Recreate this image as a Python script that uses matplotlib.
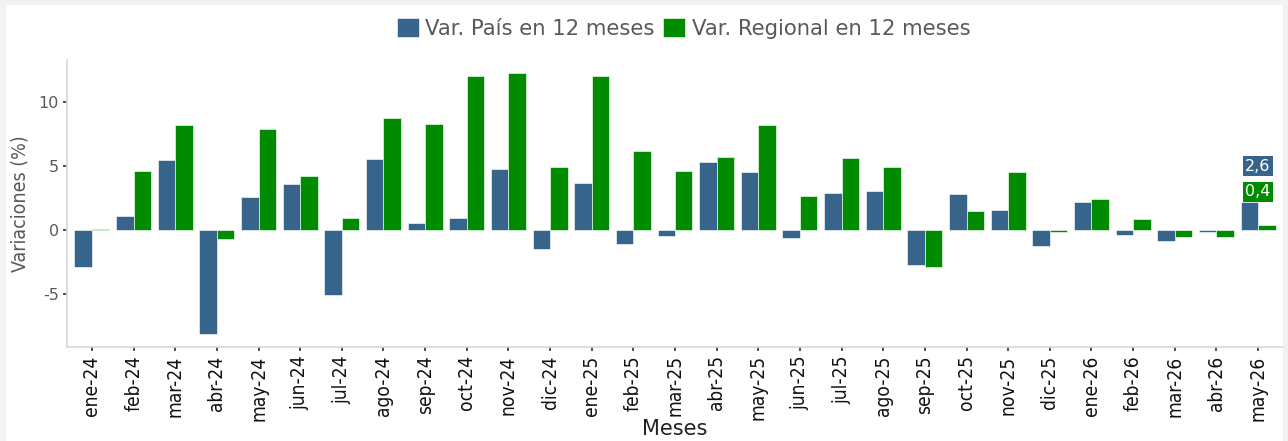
import matplotlib
matplotlib.use("Agg")
import matplotlib.pyplot as plt
import numpy as np
from matplotlib.patches import Rectangle
from matplotlib import font_manager as fm

plt.rcParams['font.family'] = ['DejaVu Sans']

months = ["ene-24", "feb-24", "mar-24", "abr-24", "may-24", "jun-24", "jul-24", "ago-24",
          "sep-24", "oct-24", "nov-24", "dic-24", "ene-25", "feb-25", "mar-25", "abr-25",
          "may-25", "jun-25", "jul-25", "ago-25", "sep-25", "oct-25", "nov-25", "dic-25",
          "ene-26", "feb-26", "mar-26", "abr-26", "may-26"]
var_pais = [-2.92, 1.09, 5.47, -8.13, 2.55, 3.57, -5.10, 5.55, 0.57, 0.94, 4.77, -1.51,
            3.67, -1.07, -0.44, 5.31, 4.51, -0.65, 2.94, 3.05, -2.73, 2.86, 1.54, -1.28,
            2.16, -0.36, -0.89, -0.13, 2.19]
var_regional = [0.05, 4.66, 8.18, -0.70, 7.89, 4.22, 0.94, 8.75, 8.26, 12.06, 12.29, 4.97,
                12.03, 6.17, 4.66, 5.70, 8.23, 2.66, 5.65, 4.97, -2.92, 1.48, 4.51, -0.13,
                2.47, 0.86, -0.52, -0.52, 0.42]
yticks = [-5, 0, 5, 10]
ytick_labels = ["-5", "0", "5", "10"]
label_pais = "2,6"
label_regional = "0,4"
label_pais_y = 5.0
label_regional_y = 3.0

BLUE = "#36648B"
GREEN = "#008B00"
TXT = "#595959"

# condensed face if present
cond_path = None
for f in fm.fontManager.ttflist:
    if f.name == "DejaVu Sans" and f.stretch == "condensed" and f.style == "normal" and f.weight in (400, "normal"):
        cond_path = f.fname
        break
cond = fm.FontProperties(fname=cond_path) if cond_path else fm.FontProperties(family="DejaVu Sans")

fig = plt.figure(figsize=(12.88, 4.41), dpi=100, facecolor="#f2f2f2")
bg = Rectangle((6 / 1288, 0), (1283 - 6) / 1288, 1 - 5 / 441,
               transform=fig.transFigure, facecolor="white", edgecolor="none", zorder=-10)
fig.patches.append(bg)
ax = fig.add_axes([67 / 1288, 1 - 347 / 441, (1283 - 67) / 1288, (347 - 60) / 441])
ax.set_zorder(5)
ax.set_facecolor("white")

x = np.arange(len(months))
w = 0.42
ax.bar(x - w / 2, var_pais, w, color=BLUE, edgecolor=(1, 1, 1, 0.6), linewidth=0.7,
       label="Var. País en 12 meses")
ax.bar(x + w / 2, var_regional, w, color=GREEN, edgecolor=(1, 1, 1, 0.6), linewidth=0.7,
       label="Var. Regional en 12 meses")

ax.set_xlim(-0.6, len(months) - 1 + 0.6)
ax.set_ylim(-9.14, 13.3)
ax.set_xticks(x)
ax.set_xticklabels(months, rotation=90, color="#111111")
for t in ax.get_xticklabels():
    t.set_fontproperties(cond)
    t.set_fontsize(13.8)
ax.set_yticks(yticks)
ax.set_yticklabels(ytick_labels, fontsize=11.5, color=TXT)
ax.tick_params(axis="both", length=3, width=1.2, color="#333333", pad=3)

for s in ["top", "right"]:
    ax.spines[s].set_visible(False)
for s in ["left", "bottom"]:
    ax.spines[s].set_color("#d9d9d9")
    ax.spines[s].set_linewidth(1.2)

yl = ax.set_ylabel("Variaciones (%)", color=TXT, labelpad=6)
yl.set_fontproperties(cond)
yl.set_fontsize(14)
ax.set_xlabel("Meses", fontsize=15, color="#222222", labelpad=-1)

ax.text(x[-1], label_pais_y, label_pais, ha="center", va="center", color="white", fontsize=11.5,
        bbox=dict(boxstyle="square,pad=0.15", facecolor=BLUE, edgecolor="none"))
ax.text(x[-1], label_regional_y, label_regional, ha="center", va="center", color="white",
        fontsize=11.5,
        bbox=dict(boxstyle="square,pad=0.15", facecolor=GREEN, edgecolor="none"))

leg = ax.legend(loc="center", bbox_to_anchor=(0.507, 1.11), ncol=2, frameon=False,
                fontsize=15.2, handlelength=1.05, handleheight=1.0, handletextpad=0.3,
                columnspacing=0.4, borderaxespad=0)
for t in leg.get_texts():
    t.set_color(TXT)

fig.savefig("out.png", dpi=100, facecolor=fig.get_facecolor())
